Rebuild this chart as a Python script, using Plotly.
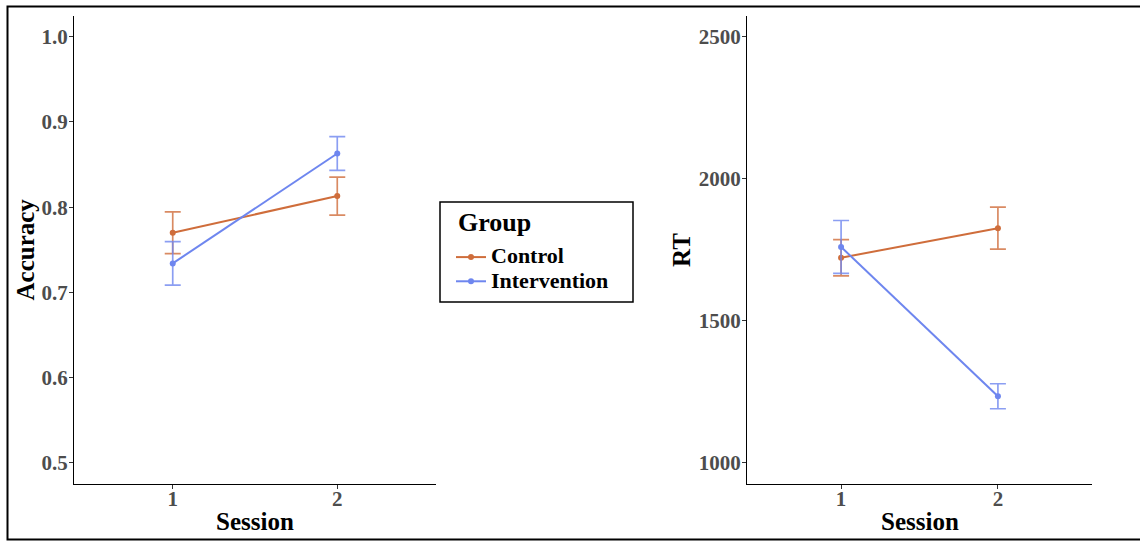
import plotly.graph_objects as go

# ---- data ----
sessions = [1, 2]
groups = ["Control", "Intervention"]
acc_control = [0.770, 0.813]
acc_control_err = [0.0245, 0.0223]
acc_intervention = [0.734, 0.863]
acc_intervention_err = [0.0255, 0.0198]
rt_control = [1722, 1826]
rt_control_err = [64, 74]
rt_intervention = [1760, 1234]
rt_intervention_err = [93, 44]
acc_ticks = [0.5, 0.6, 0.7, 0.8, 0.9, 1.0]
acc_ticktext = ["0.5", "0.6", "0.7", "0.8", "0.9", "1.0"]
rt_ticks = [1000, 1500, 2000, 2500]

W, H = 1140, 541
col = {"Control": "#CF6D3B", "Intervention": "#6E86EF"}
col_err = {"Control": "rgba(207,109,59,0.8)", "Intervention": "rgba(110,134,239,0.8)"}
FONT = "Liberation Serif, Times New Roman, serif"

def px_x(p):
    return p / W

def px_y(p):
    return (H - p) / H

fig = go.Figure()

series = [
    ("Control", acc_control, acc_control_err, rt_control, rt_control_err),
    ("Intervention", acc_intervention, acc_intervention_err, rt_intervention, rt_intervention_err),
]
for name, acc, acc_e, rt, rt_e in series:
    label = '<span style="font-size:22px">' + name + '</span>'
    fig.add_trace(go.Scatter(
        x=sessions, y=acc, mode="lines+markers", name=label, legendgroup=name,
        line=dict(color=col[name], width=2), marker=dict(color=col[name], size=6),
        error_y=dict(type="data", array=acc_e, color=col_err[name], thickness=1.7, width=8),
        xaxis="x", yaxis="y", showlegend=True,
    ))
    fig.add_trace(go.Scatter(
        x=sessions, y=rt, mode="lines+markers", name=label, legendgroup=name,
        line=dict(color=col[name], width=2), marker=dict(color=col[name], size=6),
        error_y=dict(type="data", array=rt_e, color=col_err[name], thickness=1.7, width=8),
        xaxis="x2", yaxis="y2", showlegend=False,
    ))

tickfont = dict(family=FONT, size=21, color="#4D4D4D", weight="bold")
common_x = dict(range=[0.4, 2.6], tickvals=sessions, ticktext=["1", "2"], showline=True,
                linecolor="black", linewidth=1.3, ticks="outside", ticklen=4, tickcolor="#333333",
                tickwidth=1, showgrid=False, zeroline=False, tickfont=tickfont, automargin=False,
                ticklabelstandoff=-8)
common_y = dict(showline=True, linecolor="black", linewidth=1.3, ticks="outside", ticklen=4,
                tickcolor="#333333", tickwidth=1, showgrid=False, zeroline=False,
                tickfont=tickfont, automargin=False, ticklabelstandoff=-3)

ydom = [px_y(484), px_y(15.5)]
fig.update_layout(
    width=W, height=H,
    margin=dict(l=0, r=0, t=0, b=0),
    paper_bgcolor="white", plot_bgcolor="white",
    xaxis=dict(domain=[px_x(74), px_x(436)], anchor="y", **common_x),
    yaxis=dict(domain=ydom, anchor="x", range=[0.475, 1.025], tickvals=acc_ticks,
               ticktext=acc_ticktext, **common_y),
    xaxis2=dict(domain=[px_x(747), px_x(1092)], anchor="y2", **common_x),
    yaxis2=dict(domain=ydom, anchor="x2", range=[925, 2575], tickvals=rt_ticks, **common_y),
    legend=dict(
        x=px_x(441), y=px_y(240), xanchor="left", yanchor="top",
        bgcolor="rgba(0,0,0,0)", borderwidth=0,
        font=dict(family=FONT, size=16.3, color="black", weight="bold"),
        itemwidth=30, tracegroupgap=0, indentation=10,
    ),
    showlegend=True,
)

title_font = dict(family=FONT, size=25, color="black", weight="bold")
annos = [
    dict(text="Session", x=px_x(255), y=px_y(521)),
    dict(text="Session", x=px_x(920), y=px_y(521)),
    dict(text="Accuracy", x=px_x(25), y=px_y(249.5), textangle=-90),
    dict(text="RT", x=px_x(682), y=px_y(250), textangle=-90),
]
for a in annos:
    fig.add_annotation(xref="paper", yref="paper", xanchor="center", yanchor="middle",
                       showarrow=False, font=title_font, **a)
# legend title
fig.add_annotation(xref="paper", yref="paper", xanchor="left", yanchor="middle",
                   x=px_x(456), y=px_y(222), text="Group", showarrow=False,
                   font=dict(family=FONT, size=26, color="black", weight="bold"))

# legend frame
fig.add_shape(type="rect", xref="paper", yref="paper",
              x0=px_x(440), x1=px_x(633), y0=px_y(302), y1=px_y(202),
              line=dict(color="black", width=1.5), fillcolor="rgba(0,0,0,0)")
# outer frame
fig.add_shape(type="rect", xref="paper", yref="paper",
              x0=px_x(7.5), x1=px_x(1142), y0=px_y(539.5), y1=px_y(6.5),
              line=dict(color="black", width=2), fillcolor="rgba(0,0,0,0)")

fig.write_html("out.html")
